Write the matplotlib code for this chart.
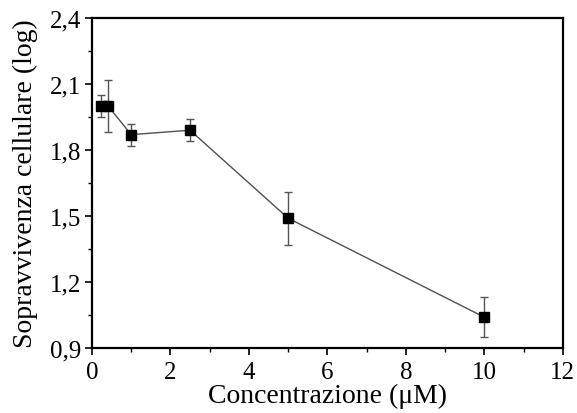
import matplotlib
matplotlib.use('Agg')
import matplotlib.pyplot as plt
from matplotlib.ticker import MultipleLocator, FuncFormatter

# concentration (uM) vs cell survival (log)
conc = [0.24, 0.41, 1.0, 2.5, 5.0, 10.0]
survival = [2.00, 2.00, 1.87, 1.89, 1.49, 1.04]
err = [0.05, 0.12, 0.05, 0.05, 0.12, 0.09]

plt.rcParams['font.family'] = ['Liberation Serif', 'DejaVu Serif']

fig = plt.figure(figsize=(5.77, 4.14), dpi=100)
ax = fig.add_axes([0.1594, 0.157, 0.816, 0.797])

ax.errorbar(conc, survival, yerr=err, color='#505050', lw=1.0,
            ecolor='#555555', elinewidth=1.0, capsize=3, capthick=1.0,
            marker='s', markersize=7, markerfacecolor='black',
            markeredgecolor='black', zorder=3)

ax.set_xlim(0, 12)
ax.set_ylim(0.9, 2.4)
ax.xaxis.set_major_locator(MultipleLocator(2))
ax.xaxis.set_minor_locator(MultipleLocator(1))
ax.yaxis.set_major_locator(MultipleLocator(0.3))
ax.yaxis.set_minor_locator(MultipleLocator(0.15))
ax.yaxis.set_major_formatter(FuncFormatter(lambda v, p: f'{v:.1f}'.replace('.', ',')))

ax.tick_params(which='both', direction='out', top=False, right=False, labelsize=18)
ax.tick_params(which='major', length=5, width=1.2)
ax.tick_params(axis='x', which='major', pad=4)
ax.tick_params(axis='y', which='major', pad=3)
ax.tick_params(which='minor', length=3, width=1.0)
for s in ax.spines.values():
    s.set_linewidth(1.6)

ax.set_xlabel('Concentrazione (μM)', fontsize=20, labelpad=0)
ax.set_ylabel('Sopravvivenza cellulare (log)', fontsize=20, labelpad=8)

fig.savefig('out.png', dpi=100)
